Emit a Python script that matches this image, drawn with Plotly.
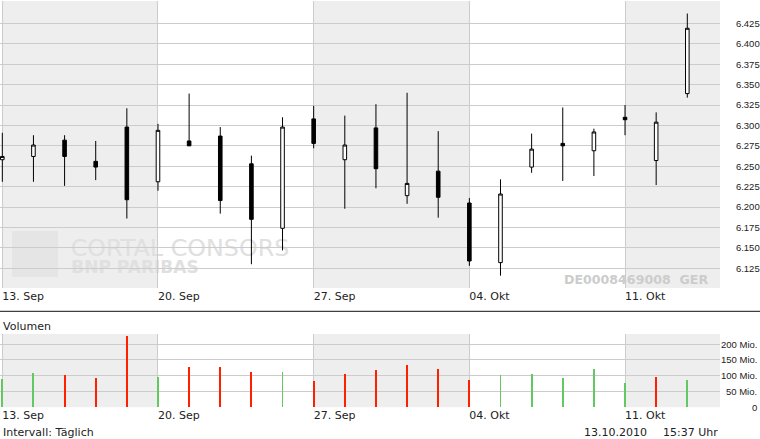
import plotly.graph_objects as go

# ---------------- data ----------------
dates = ["13.09.2010", "14.09.2010", "15.09.2010", "16.09.2010", "17.09.2010",
         "20.09.2010", "21.09.2010", "22.09.2010", "23.09.2010", "24.09.2010",
         "27.09.2010", "28.09.2010", "29.09.2010", "30.09.2010", "01.10.2010",
         "04.10.2010", "05.10.2010", "06.10.2010", "07.10.2010", "08.10.2010",
         "11.10.2010", "12.10.2010", "13.10.2010"]

open_ = [6.258, 6.262, 6.282, 6.256, 6.298,
         6.231, 6.281, 6.287, 6.253, 6.174,
         6.308, 6.258, 6.297, 6.214, 6.244,
         6.205, 6.132, 6.249, 6.278, 6.269,
         6.310, 6.257, 6.339]
high = [6.291, 6.288, 6.288, 6.281, 6.321,
        6.302, 6.339, 6.298, 6.263, 6.310,
        6.324, 6.312, 6.326, 6.340, 6.293,
        6.211, 6.234, 6.290, 6.322, 6.296,
        6.325, 6.316, 6.437]
low = [6.231, 6.231, 6.226, 6.233, 6.186,
       6.220, 6.275, 6.192, 6.130, 6.147,
       6.272, 6.198, 6.223, 6.204, 6.187,
       6.128, 6.116, 6.242, 6.232, 6.238,
       6.288, 6.227, 6.334]
close = [6.262, 6.276, 6.262, 6.249, 6.209,
         6.294, 6.275, 6.208, 6.185, 6.298,
         6.278, 6.276, 6.247, 6.229, 6.212,
         6.134, 6.216, 6.271, 6.275, 6.292,
         6.307, 6.304, 6.419]

volume_mio = [90.4, 108.4, 102.0, 92.6, 226.0,
              95.7, 127.3, 127.3, 111.5, 111.5,
              83.0, 105.0, 117.9, 133.6, 121.0,
              86.3, 102.0, 105.0, 92.6, 121.0,
              77.4, 95.7, 86.3]
volume_up = [True, True, False, False, False,
             True, False, False, False, True,
             False, False, False, False, False,
             False, True, True, True, True,
             True, False, True]

week_starts = ["13.09.2010", "20.09.2010", "27.09.2010", "04.10.2010", "11.10.2010"]
week_labels = ["13. Sep", "20. Sep", "27. Sep", "04. Okt", "11. Okt"]

price_ticks = [6.125, 6.150, 6.175, 6.200, 6.225, 6.250, 6.275, 6.300,
               6.325, 6.350, 6.375, 6.400, 6.425]
vol_ticks = [0, 50, 100, 150, 200]
vol_ticktext = ["0", "50 Mio.", "100 Mio.", "150 Mio.", "200 Mio."]

# ---------------- layout helpers ----------------
W, H = 760, 439


def px_x(p):
    return p / W


def px_y(p):
    return 1 - p / H


days = list(range(len(dates)))
week_pos = [dates.index(d) for d in week_starts]
x_range = [-0.074, 23.05]
price_range = [6.1009, 6.4524]
vol_range = [0, 231.6]

GRID = "#cccccc"
SHADE = "#eeeeee"
TXT = "#222222"
FONT_V = "DejaVu Sans"
FONT_A = "Liberation Sans"

fig = go.Figure()

fig.add_trace(go.Candlestick(
    x=days, open=open_, high=high, low=low, close=close,
    xaxis="x", yaxis="y",
    increasing=dict(line=dict(color="black", width=1), fillcolor="white"),
    decreasing=dict(line=dict(color="black", width=1), fillcolor="black"),
    whiskerwidth=0, hoverinfo="skip", showlegend=False,
))

fig.add_trace(go.Bar(
    x=days, y=volume_mio, xaxis="x2", yaxis="y2",
    width=0.03,
    marker=dict(color=["#62c862" if u else "#ff2000" for u in volume_up],
                line=dict(width=0)),
    hoverinfo="skip", showlegend=False,
))

shapes = []
for i, ws in enumerate(week_pos):
    if i % 2 == 0:
        x0 = max(ws, x_range[0])
        x1 = min(ws + 5, x_range[1])
        for xr, yr in (("x", "y domain"), ("x2", "y2 domain")):
            shapes.append(dict(type="rect", xref=xr, yref=yr, x0=x0, x1=x1,
                               y0=0, y1=1, fillcolor=SHADE, line=dict(width=0),
                               layer="below"))

# watermark logo + text
shapes.append(dict(type="rect", xref="paper", yref="paper",
                   x0=px_x(12), x1=px_x(58), y0=px_y(277), y1=px_y(231),
                   fillcolor="#e5e5e5", line=dict(width=0), layer="below"))
shapes.append(dict(type="rect", xref="paper", yref="paper",
                   x0=px_x(64), x1=px_x(296), y0=px_y(258), y1=px_y(234),
                   fillcolor="rgba(0,0,0,0)", line=dict(width=0), layer="below",
                   label=dict(text="CORTAL CONSORS", textposition="middle center",
                              font=dict(family=FONT_V, size=23.8, color="#e0e0e0"))))
shapes.append(dict(type="rect", xref="paper", yref="paper",
                   x0=px_x(64), x1=px_x(206), y0=px_y(274), y1=px_y(258),
                   fillcolor="rgba(0,0,0,0)", line=dict(width=0), layer="below",
                   label=dict(text="<b>BNP PARIBAS</b>", textposition="middle center",
                              font=dict(family=FONT_V, size=17, color="#e0e0e0"))))
# separator line
shapes.append(dict(type="line", xref="paper", yref="paper", x0=0, x1=1,
                   y0=px_y(311.3), y1=px_y(311.3), line=dict(color="#111111", width=1)))

annotations = [
    dict(text="<b>DE0008469008  GER</b>", xref="paper", yref="paper",
         x=px_x(710), y=px_y(279), xanchor="right", yanchor="middle",
         showarrow=False, font=dict(family=FONT_V, size=12.6, color="#cccccc")),
    dict(text="Volumen", xref="paper", yref="paper", x=px_x(1), y=px_y(326),
         xanchor="left", yanchor="middle", showarrow=False,
         font=dict(family=FONT_V, size=11, color=TXT)),
    dict(text="Intervall: Täglich", xref="paper", yref="paper", x=px_x(1), y=px_y(432),
         xanchor="left", yanchor="middle", showarrow=False,
         font=dict(family=FONT_V, size=11, color=TXT)),
    dict(text="13.10.2010", xref="paper", yref="paper", x=px_x(649), y=px_y(432),
         xanchor="right", yanchor="middle", showarrow=False,
         font=dict(family=FONT_V, size=11, color=TXT)),
    dict(text="15:37 Uhr", xref="paper", yref="paper", x=px_x(720), y=px_y(432),
         xanchor="right", yanchor="middle", showarrow=False,
         font=dict(family=FONT_V, size=11, color=TXT)),
]
# volume axis labels, right-aligned at the figure edge, placed on the y2 scale
for v, t in zip(vol_ticks, vol_ticktext):
    annotations.append(dict(text=t, xref="paper", yref="y2", x=px_x(759), y=v,
                            xanchor="right", yanchor="middle", showarrow=False,
                            font=dict(family=FONT_A, size=9.5, color=TXT)))

xaxis_common = dict(
    domain=[0, px_x(720)], range=x_range, tickmode="array",
    tickvals=week_pos, ticktext=week_labels, showgrid=True, gridcolor=GRID,
    gridwidth=1, zeroline=False, showline=False, ticks="",
    ticklabelposition="outside right",
    tickfont=dict(family=FONT_V, size=11, color=TXT), automargin=False,
    fixedrange=True,
)

fig.update_layout(
    width=W, height=H, template="none",
    margin=dict(l=0, r=0, t=0, b=0, pad=0),
    paper_bgcolor="white", plot_bgcolor="white",
    showlegend=False, boxgap=0.885, boxgroupgap=0, bargap=0,
    xaxis=dict(**xaxis_common, anchor="y", rangeslider=dict(visible=False)),
    xaxis2=dict(**xaxis_common, anchor="y2"),
    yaxis=dict(domain=[px_y(288), px_y(1)], range=price_range, side="right",
               anchor="x", tickmode="array", tickvals=price_ticks,
               ticktext=[f"{v:.3f}" for v in price_ticks],
               showgrid=True, gridcolor=GRID, gridwidth=1, zeroline=False,
               showline=False, ticks="outside", ticklen=13,
               tickcolor="rgba(0,0,0,0)",
               tickfont=dict(family=FONT_A, size=9.5, color=TXT),
               automargin=False, fixedrange=True),
    yaxis2=dict(domain=[px_y(407.3), px_y(334)], range=vol_range, side="right",
                anchor="x2", tickmode="array", tickvals=vol_ticks,
                showticklabels=False,
                showgrid=True, gridcolor=GRID, gridwidth=1, zeroline=False,
                showline=False, ticks="",
                automargin=False, fixedrange=True),
    shapes=shapes, annotations=annotations,
)

fig.write_html("out.html", config=dict(displayModeBar=False),
               post_script="document.body.style.margin='0';document.body.style.padding='0';")
